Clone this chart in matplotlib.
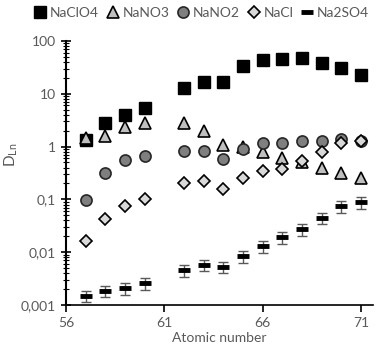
import numpy as np
import matplotlib
matplotlib.use('Agg')
import matplotlib.pyplot as plt

plt.rcParams['font.family'] = ['Lato', 'DejaVu Sans']

# atomic numbers (no Pm, Z=61)
z = [57, 58, 59, 60, 62, 63, 64, 65, 66, 67, 68, 69, 70, 71]

naclo4 = [1.34, 2.77, 4.0, 5.35, 13, 17, 17, 33, 44, 45, 47, 38, 31, 23]
nano3 = [1.44, 1.6, 2.33, 2.77, 2.75, 2.0, 1.07, 1.0, 0.80, 0.62, 0.50, 0.39, 0.31, 0.25]
nano2 = [0.098, 0.32, 0.56, 0.675, 0.84, 0.83, 0.58, 0.90, 1.16, 1.16, 1.28, 1.30, 1.38, 1.28]
nacl = [0.016, 0.043, 0.076, 0.10, 0.20, 0.22, 0.158, 0.25, 0.345, 0.37, 0.54, 0.78, 1.19, 1.28]
na2so4 = [0.0015, 0.00187, 0.0021, 0.0026, 0.0045, 0.0058, 0.0053, 0.0085, 0.013, 0.019, 0.027, 0.045, 0.075, 0.088]
na2so4_err = [0.25 * v for v in na2so4]

ytick_vals = [0.001, 0.01, 0.1, 1, 10, 100]
ytick_labels = ['0,001', '0,01', '0,1', '1', '10', '100']
xtick_vals = [56, 61, 66, 71]

grey = '#595959'

fig = plt.figure(figsize=(3.77, 3.5), dpi=100)
ax = fig.add_axes([0.175, 0.1286, 0.814, 0.7543])

ax.plot(z, naclo4, ls='none', marker='s', ms=8, mfc='black', mec='black', label='NaClO4', zorder=3)
ax.plot(z, nano3, ls='none', marker='^', ms=8.5, mfc='#bfbfbf', mec='black', mew=1.2, label='NaNO3', zorder=4)
ax.plot(z, nano2, ls='none', marker='o', ms=8, mfc='#7f7f7f', mec='#262626', mew=1.2, label='NaNO2', zorder=5)
ax.plot(z, nacl, ls='none', marker='D', ms=6, mfc='#d9d9d9', mec='black', mew=1.2, label='NaCl', zorder=6)
ax.errorbar(z, na2so4, yerr=na2so4_err, ls='none', ecolor=grey, elinewidth=1, capsize=3.5,
            capthick=1, zorder=2)
ax.plot(z, na2so4, ls='none', marker='_', ms=9, mew=3.5, color='black', label='Na2SO4', zorder=3)

ax.set_yscale('log')
ax.set_ylim(0.001, 100)
ax.set_xlim(56, 71.6)
ax.set_yticks(ytick_vals)
ax.set_yticklabels(ytick_labels)
ax.set_xticks(xtick_vals)
ax.set_xticklabels([str(v) for v in xtick_vals])

for s in ['top', 'right']:
    ax.spines[s].set_visible(False)
ax.spines['left'].set_linewidth(1.5)
ax.spines['bottom'].set_linewidth(1.2)

ax.tick_params(axis='y', which='major', direction='inout', length=7, width=1.2,
               labelsize=10, labelcolor=grey)
ax.tick_params(axis='y', which='minor', direction='inout', length=5, width=0.8)
ax.tick_params(axis='x', which='major', direction='out', length=5, width=1.2,
               labelsize=10, labelcolor=grey)
ax.tick_params(axis='x', which='minor', length=0)

ax.set_ylabel('D$_{\\mathregular{Ln}}$', color=grey, fontsize=11)
ax.yaxis.set_label_coords(-0.15, 0.57)
ax.set_xlabel('Atomic number', color=grey, fontsize=10, labelpad=2)

fig.legend(loc='center', bbox_to_anchor=(0.535, 0.962), ncol=5, frameon=False,
           fontsize=10, labelcolor=grey, handlelength=0.8, handletextpad=0.3,
           columnspacing=0.6, borderpad=0.1)

fig.savefig('out.png', dpi=100)
